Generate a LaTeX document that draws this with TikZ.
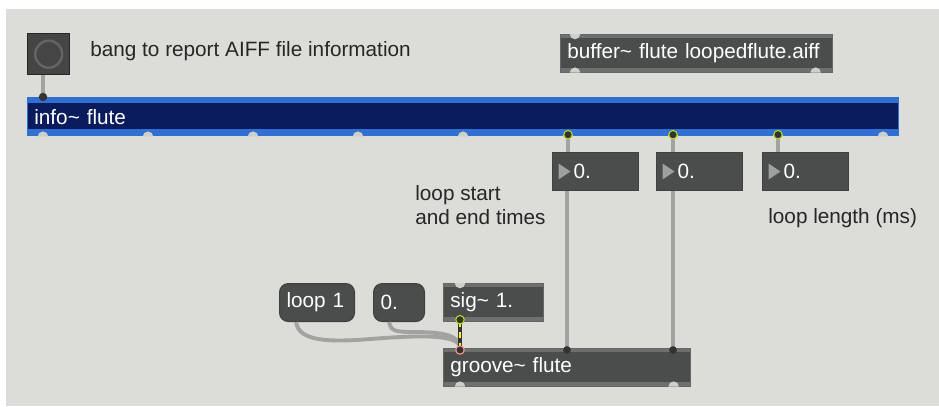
\documentclass[tikz,border=0pt]{standalone}
\usepackage{fontspec}
\setmainfont{Liberation Sans}
\usetikzlibrary{calc}

\definecolor{patchbg}{HTML}{DCDCD8}
\definecolor{objfill}{HTML}{4B4D4C}
\definecolor{objedge}{HTML}{6E706F}
\definecolor{navy}{HTML}{0A1C5E}
\definecolor{infoblue}{HTML}{2F70D2}
\definecolor{cablegray}{HTML}{A2A2A0}
\definecolor{portgray}{HTML}{CFCFCB}

\newcommand{\boxfont}{\fontsize{11.8}{13.6}\selectfont}
\tikzstyle{boxtext}=[anchor=north west, minimum height=0.76cm, inner xsep=0.14cm, inner ysep=0pt, align=left, text=white, font=\boxfont]
\tikzstyle{maxobj}=[boxtext, fill=objedge, draw=black!60, line width=0.4pt,
  path picture={\fill[objfill] ([yshift=-2.2pt]path picture bounding box.north west) rectangle ([yshift=2.2pt]path picture bounding box.south east);}]
\tikzstyle{msgbox}=[boxtext, fill=objfill, draw=black!75, line width=0.6pt, rounded corners=5pt]
\tikzstyle{numbox}=[boxtext, fill=objfill, draw=black!75, line width=0.6pt, inner xsep=0.42cm, text width=0.88cm,
  path picture={\fill[gray!75] ([shift={(0.12cm,0.16cm)}]path picture bounding box.west) -- ([shift={(0.12cm,-0.16cm)}]path picture bounding box.west) -- ([shift={(0.36cm,0cm)}]path picture bounding box.west) -- cycle;}]
\tikzstyle{infobar}=[boxtext, fill=infoblue, minimum height=0.78cm,
  path picture={\fill[navy] ([shift={(0.6pt,-3.4pt)}]path picture bounding box.north west) rectangle ([shift={(-0.6pt,4pt)}]path picture bounding box.south east);}]
\tikzstyle{bangbox}=[anchor=north west, fill=objfill!90!black, draw=black!85, line width=0.8pt, minimum width=0.84cm, minimum height=0.82cm, inner sep=0pt,
  path picture={\draw[gray!45!objfill, line width=1.4pt] (path picture bounding box.center) circle (0.27cm);}]
\tikzstyle{comment}=[inner sep=0pt, align=left, font=\boxfont, text=black!85]
\tikzstyle{cable}=[draw=cablegray, line width=2.2pt]
\tikzstyle{port}=[fill=portgray]
\tikzstyle{hotport}=[fill=black!80, draw=yellow!70!green, line width=0.6pt]

\newcommand{\inport}[1]{\fill[port] #1 ++(-3pt,0) arc[start angle=180, end angle=360, radius=3pt] -- cycle;}
\newcommand{\outport}[1]{\fill[port] #1 ++(-3pt,0) arc[start angle=180, end angle=0, radius=3pt] -- cycle;}
\newcommand{\hotport}[1]{\draw[hotport] #1 circle (2.4pt);}

\begin{document}
\begin{tikzpicture}[x=0.02cm, y=-0.02cm]
\useasboundingbox (0,0) rectangle (939,406);
\fill[white] (0,0) rectangle (939,406);
\fill[patchbg] (6,9) rectangle (939,406);

% objects
\node[bangbox] (bang) at (27,33) {};
\node[comment, anchor=base west] (bangnote) at (90,56) {bang to report AIFF file information};
\node[maxobj, text width=5.16cm] (buffer) at (560,34) {buffer\textasciitilde{} flute loopedflute.aiff};
\node[infobar, text width=17.16cm] (info) at (27,97) {info\textasciitilde{} flute};
\node[numbox] (nbstart) at (552,152) {0.};
\node[numbox] (nbend) at (656,152) {0.};
\node[numbox] (nblength) at (762,152) {0.};
\node[comment, anchor=north west] (timesnote) at (415,185) {loop start\\and end times};
\node[comment, anchor=base west] (lengthnote) at (768,223) {loop length (ms)};
\node[msgbox, text width=1.22cm] (loopmsg) at (279,283) {loop 1};
\node[msgbox, text width=0.74cm] (zeromsg) at (373,283) {0.};
\node[maxobj, text width=1.72cm] (sig) at (443,283) {sig\textasciitilde{} 1.};
\node[maxobj, text width=4.66cm] (groove) at (443,348) {groove\textasciitilde{} flute};

% patch cords
\draw[cable] ($(bang.south west)+(16,0)$) -- ($(info.north west)+(16,0)$);
\draw[cable] ($(info.south west)+(541,0)$) -- ($(nbstart.north west)+(16,0)$);
\draw[cable] ($(info.south west)+(646,0)$) -- ($(nbend.north west)+(17,0)$);
\draw[cable] ($(info.south west)+(751,0)$) -- ($(nblength.north west)+(16,0)$);
\draw[cable] ($(nbstart.south west)+(15,0)$) -- ($(groove.north west)+(124,0)$);
\draw[cable] ($(nbend.south west)+(17,0)$) -- ($(groove.north west)+(230,0)$);
\draw[cable] ($(loopmsg.south west)+(17,0)$) .. controls +(3,20) and +(-40,3) .. ++(74,17)
  .. controls +(50,-4) and +(0,-14) .. ($(groove.north west)+(17,0)$);
\draw[cable] ($(zeromsg.south west)+(16,0)$) .. controls +(2,9) and +(-20,0) .. ++(26,10)
  .. controls +(30,0) and +(0,-12) .. ($(groove.north west)+(17,0)$);
\draw[black!80, line width=2pt] ($(sig.south west)+(17,0)$) -- ($(groove.north west)+(17,0)$);
\draw[yellow!85!white, line width=1.4pt, dash pattern=on 3pt off 3pt] ($(sig.south west)+(17,0)$) -- ($(groove.north west)+(17,0)$);

% inlets and outlets
\foreach \i in {0,...,8} {\outport{($(info.south west)+(16+105*\i,0)$)}}
\foreach \i in {5,6,7} {\hotport{($(info.south west)+(16+105*\i,-2)$)}}
\fill[black!80] ($(info.north west)+(16,0)$) circle (2.4pt);
\inport{($(buffer.north west)+(15,0)$)}
\outport{($(buffer.south west)+(15,0)$)}
\outport{($(buffer.south east)+(-17,0)$)}
\inport{($(sig.north west)+(17,0)$)}
\hotport{($(sig.south west)+(17,-2)$)}
\draw[hotport, draw=pink!80!red] ($(groove.north west)+(17,2)$) circle (2.4pt);
\fill[black!80] ($(groove.north west)+(124,2)$) circle (2.2pt);
\fill[black!80] ($(groove.north west)+(230,2)$) circle (2.2pt);
\outport{($(groove.south west)+(17,0)$)}
\outport{($(groove.south east)+(-17,0)$)}
\end{tikzpicture}
\end{document}
